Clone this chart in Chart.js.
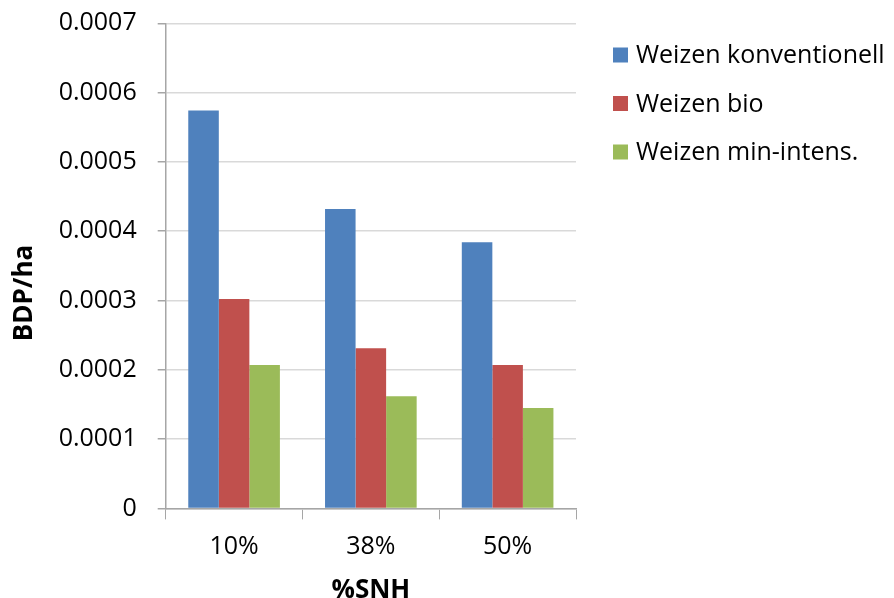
<!DOCTYPE html>
<html>
<head>
<meta charset="utf-8">
<script src="https://cdn.jsdelivr.net/npm/chart.js@4.4.1/dist/chart.umd.min.js"></script>
<style>
html,body{margin:0;padding:0;background:#fff;}
#wrap{position:relative;width:894px;height:598px;}
</style>
</head>
<body>
<div id="wrap"><canvas id="c" width="894" height="598"></canvas></div>
<script>
const categories = ['10%', '38%', '50%'];
const seriesNames = ['Weizen konventionell', 'Weizen bio', 'Weizen min-intens.'];
const konventionell = [0.000574, 0.000432, 0.000384];
const bio = [0.000302, 0.000231, 0.000207];
const minIntens = [0.000207, 0.000162, 0.000145];
const yTickLabels = ['0', '0.0001', '0.0002', '0.0003', '0.0004', '0.0005', '0.0006', '0.0007'];
const colors = ['#4F81BD', '#C0504D', '#9BBB59'];
const yTitle = 'BDP/ha';
const xTitle = '%SNH';

const FONT = "'Open Sans', 'DejaVu Sans', sans-serif";

const customLegendAndTitles = {
  id: 'customLegendAndTitles',
  afterDraw(chart) {
    const ctx = chart.ctx;
    const ca = chart.chartArea;
    ctx.save();
    // legend
    ctx.font = '25px ' + FONT;
    ctx.textBaseline = 'middle';
    ctx.textAlign = 'left';
    chart.data.datasets.forEach((ds, i) => {
      const cy = 55 + i * 48.5;
      ctx.fillStyle = ds.backgroundColor;
      ctx.fillRect(613, cy - 7.5, 15, 15);
      ctx.fillStyle = '#000';
      ctx.fillText(ds.label, 636, cy + 1);
    });
    // y title
    ctx.font = 'bold 26px ' + FONT;
    ctx.fillStyle = '#000';
    ctx.textAlign = 'center';
    ctx.textBaseline = 'middle';
    ctx.translate(25, 293);
    ctx.rotate(-Math.PI / 2);
    ctx.fillText(yTitle, 0, 0);
    ctx.restore();
    ctx.save();
    ctx.font = 'bold 26px ' + FONT;
    ctx.fillStyle = '#000';
    ctx.textAlign = 'center';
    ctx.textBaseline = 'alphabetic';
    ctx.fillText(xTitle, (ca.left + ca.right) / 2, 598);
    ctx.restore();
  }
};

new Chart(document.getElementById('c'), {
  type: 'bar',
  data: {
    labels: categories,
    datasets: [
      { label: seriesNames[0], data: konventionell, backgroundColor: colors[0] },
      { label: seriesNames[1], data: bio, backgroundColor: colors[1] },
      { label: seriesNames[2], data: minIntens, backgroundColor: colors[2] }
    ]
  },
  options: {
    responsive: false,
    animation: false,
    devicePixelRatio: 1,
    layout: { padding: { top: 23.3, right: 318, left: 0, bottom: 0 } },
    datasets: { bar: { categoryPercentage: 0.67, barPercentage: 1.0 } },
    plugins: { legend: { display: false }, tooltip: { enabled: false } },
    scales: {
      x: {
        grid: { drawOnChartArea: false, drawTicks: true, tickLength: 11, tickColor: '#a6a6a6', offset: true },
        border: { color: '#a6a6a6', width: 1.5 },
        ticks: { color: '#000', font: { family: FONT, size: 25 }, padding: 12 },
        afterFit(scale) { scale.height = 89.6; scale.paddingLeft = 0; scale.paddingRight = 0; }
      },
      y: {
        min: 0, max: 0.0007,
        ticks: {
          stepSize: 0.0001,
          color: '#000',
          font: { family: FONT, size: 25 },
          padding: 21,
          callback: (v, i) => yTickLabels[i]
        },
        grid: { color: '#d9d9d9', lineWidth: 1.5, tickLength: 8, tickColor: '#a6a6a6' },
        border: { color: '#a6a6a6', width: 1.5 },
        afterFit(scale) { scale.width = 165.7; scale.paddingTop = 0; scale.paddingBottom = 0; }
      }
    }
  },
  plugins: [customLegendAndTitles]
});
</script>
</body>
</html>
